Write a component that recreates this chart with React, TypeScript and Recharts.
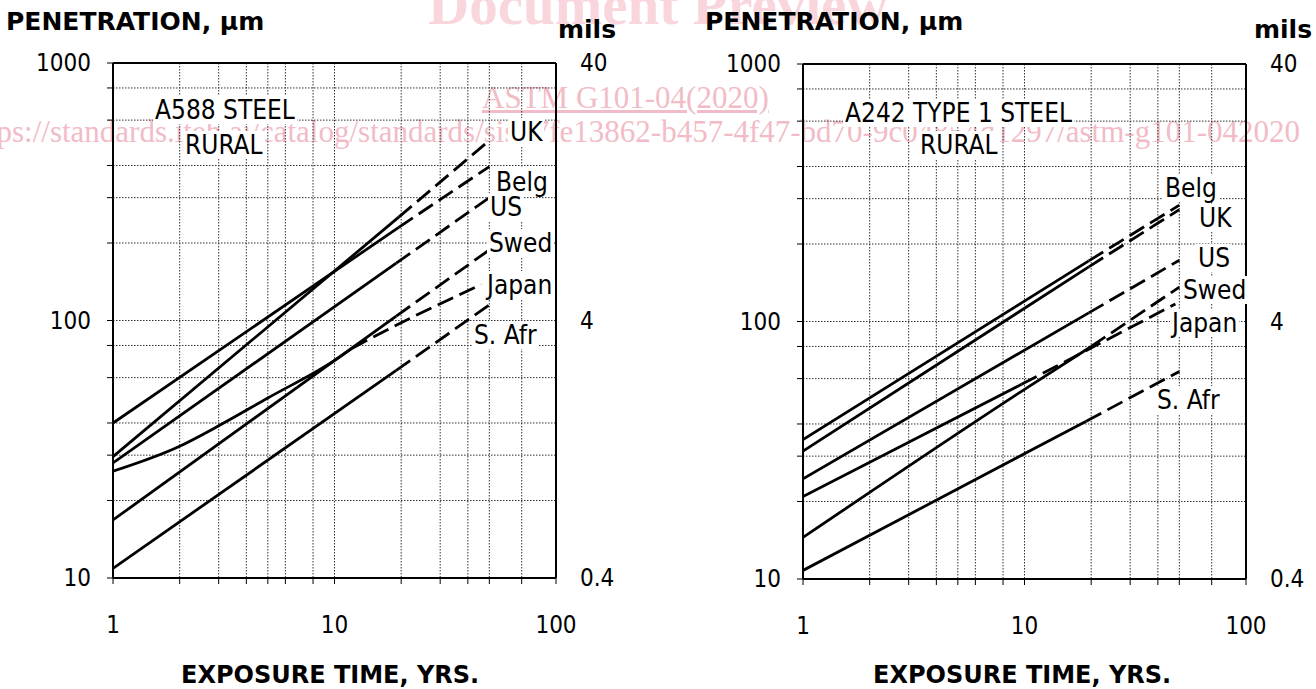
import { CartesianGrid, Line, LineChart, ReferenceLine, XAxis, YAxis } from "recharts";

// penetration (µm) vs exposure time (yrs)
// each row is [years, µm]; the part after dashFrom is drawn dashed (extrapolated)
const a588Uk = [[1, 29.6], [19.5, 252], [50, 500]];
const a588Belg = [[1, 40], [19.5, 230], [50, 396]];
const a588Us = [[1, 28], [19, 167], [50, 300]];
const a588Swed = [[1, 16.8], [19, 104], [50, 188]];
const a588Japan = [[1, 26], [2, 32.5], [3, 39], [5, 50], [10, 70], [12, 78], [20, 98], [46, 138]];
const a588SAfr = [[1, 10.9], [19, 64], [50, 115]];

const a242Belg = [[1, 34.8], [19.5, 172], [50, 283]];
const a242Uk = [[1, 31.4], [19.5, 163], [50, 272]];
const a242Us = [[1, 24.5], [19.5, 108], [50, 173]];
const a242Swed = [[1, 14.5], [10.5, 56], [20, 80], [50, 136]];
const a242Japan = [[1, 20.9], [9.7, 57], [48, 117]];
const a242SAfr = [[1, 10.8], [19, 41], [50, 64]];

const xTicks = [1, 2, 3, 4, 5, 6, 7, 8, 9, 10, 20, 30, 40, 50, 60, 70, 80, 90, 100];
const yTicks = [10, 20, 30, 40, 50, 60, 70, 80, 90, 100, 200, 300, 400, 500, 600, 700, 800, 900, 1000];
const milTicks = [0.4, 4, 40];
const labelledX = [1, 10, 100];
const labelledY = [10, 100, 1000];

type Series = { name: string; rows: number[][]; dashFrom: number };

const a588Series: Series[] = [
  { name: "UK", rows: a588Uk, dashFrom: 19.5 },
  { name: "Belg", rows: a588Belg, dashFrom: 19.5 },
  { name: "US", rows: a588Us, dashFrom: 19 },
  { name: "Swed", rows: a588Swed, dashFrom: 19 },
  { name: "Japan", rows: a588Japan, dashFrom: 12 },
  { name: "S. Afr", rows: a588SAfr, dashFrom: 19 }
];

const a242Series: Series[] = [
  { name: "Belg", rows: a242Belg, dashFrom: 19.5 },
  { name: "UK", rows: a242Uk, dashFrom: 19.5 },
  { name: "US", rows: a242Us, dashFrom: 19.5 },
  { name: "Swed", rows: a242Swed, dashFrom: 20 },
  { name: "Japan", rows: a242Japan, dashFrom: 9.7 },
  { name: "S. Afr", rows: a242SAfr, dashFrom: 19 }
];

const FONT = "'DejaVu Sans Condensed', 'DejaVu Sans', sans-serif";
const TICK_SIZE = 24;
const toPts = (rows: number[][]) => rows.map(([t, v]) => ({ t, v }));

const XTick = ({ x, y, payload }: any) =>
  labelledX.includes(payload.value) ? (
    <text x={x} y={y + 39} dy="0.35em" textAnchor="middle" fontSize={TICK_SIZE} fontFamily={FONT} fill="#000">
      {payload.value}
    </text>
  ) : (
    <g />
  );

const YTick = ({ x, y, payload }: any) =>
  labelledY.includes(payload.value) ? (
    <text x={x} y={y} dy="0.35em" textAnchor="end" fontSize={TICK_SIZE} fontFamily={FONT} fill="#000">
      {payload.value}
    </text>
  ) : (
    <g />
  );

const MilTick = ({ x, y, payload }: any) => (
  <text x={x} y={y} dy="0.35em" textAnchor="start" fontSize={TICK_SIZE} fontFamily={FONT} fill="#000">
    {payload.value}
  </text>
);

function Panel({ series, margin }: { series: Series[]; margin: { top: number; right: number; bottom: number; left: number } }) {
  return (
    <LineChart width={658} height={689} margin={margin}>
      <CartesianGrid stroke="#333" strokeDasharray="1.5 1.5" strokeWidth={1} />
      <XAxis
        dataKey="t"
        type="number"
        scale="log"
        domain={[1, 100]}
        ticks={xTicks}
        allowDataOverflow
        height={60}
        tick={XTick}
        tickSize={6}
        tickLine={{ stroke: "#000" }}
        axisLine={{ stroke: "#000", strokeWidth: 2 }}
      />
      <YAxis
        type="number"
        scale="log"
        domain={[10, 1000]}
        ticks={yTicks}
        allowDataOverflow
        width={60}
        tick={YTick}
        tickSize={6}
        tickMargin={16}
        tickLine={{ stroke: "#000" }}
        axisLine={{ stroke: "#000", strokeWidth: 2 }}
      />
      <YAxis
        yAxisId="mils"
        orientation="right"
        type="number"
        scale="log"
        domain={[0.4, 40]}
        ticks={milTicks}
        allowDataOverflow
        width={60}
        tick={MilTick}
        tickLine={false}
        tickMargin={18}
        axisLine={{ stroke: "#000", strokeWidth: 2 }}
      />
      <ReferenceLine y={1000} stroke="#000" strokeWidth={2} />
      {series.map((s) => (
        <Line
          key={s.name + "-solid"}
          data={toPts(s.rows.filter(([t]) => t <= s.dashFrom))}
          dataKey="v"
          type="monotone"
          stroke="#000"
          strokeWidth={2.8}
          dot={false}
          isAnimationActive={false}
        />
      ))}
      {series.map((s) => (
        <Line
          key={s.name + "-dashed"}
          data={toPts(s.rows.filter(([t]) => t >= s.dashFrom))}
          dataKey="v"
          type="monotone"
          stroke="#000"
          strokeWidth={2.8}
          strokeDasharray="17 7"
          dot={false}
          isAnimationActive={false}
        />
      ))}
    </LineChart>
  );
}

// text placed by its left edge and vertical centre
const txt = (left: number, cy: number, text: string, extra: any = {}) => {
  const lh = extra.lineHeight ?? 28;
  return (
    <div
      key={text + left + cy}
      style={{
        position: "absolute",
        left,
        top: cy - lh / 2,
        fontFamily: FONT,
        fontSize: 26,
        background: "#fff",
        padding: "0 2px",
        whiteSpace: "nowrap",
        ...extra,
        lineHeight: lh + "px"
      }}
    >
      {text}
    </div>
  );
};

const bold = { fontWeight: 700, fontFamily: "'DejaVu Sans', sans-serif", fontSize: 25, background: "transparent", padding: 0, lineHeight: 26 };
const boldX = { ...bold, fontSize: 24, lineHeight: 24 };
const pink = "#f2bcc6";

export default function App() {
  return (
    <div style={{ position: "absolute", left: 0, top: 0, width: 1316, height: 689, overflow: "hidden", background: "#fff" }}>
      {/* watermark of the source document */}
      <div style={{ position: "absolute", left: 428, top: -28, fontFamily: "'Liberation Serif', serif", fontWeight: 700, fontSize: 57, color: "#f9d6dc", whiteSpace: "nowrap" }}>
        Document Preview
      </div>
      <div style={{ position: "absolute", left: 482, top: 80, fontFamily: "'Liberation Serif', serif", fontSize: 31, color: pink, textDecoration: "underline", whiteSpace: "nowrap" }}>
        ASTM G101-04(2020)
      </div>
      <div style={{ position: "absolute", right: 16, top: 114, fontFamily: "'Liberation Serif', serif", fontSize: 31, color: pink, whiteSpace: "nowrap" }}>
        https://standards.iteh.ai/catalog/standards/sist/7fe13862-b457-4f47-bd70-9c04854d1297/astm-g101-042020
      </div>

      <div style={{ position: "absolute", left: 0, top: 0 }}>
        <Panel series={a588Series} margin={{ top: 63, right: 42, bottom: 51, left: 53 }} />
      </div>
      <div style={{ position: "absolute", left: 658, top: 0 }}>
        <Panel series={a242Series} margin={{ top: 64, right: 10, bottom: 50, left: 85 }} />
      </div>

      {txt(6, 22, "PENETRATION, µm", bold)}
      {txt(558, 30, "mils", bold)}
      {txt(181, 675, "EXPOSURE TIME, YRS.", boldX)}
      {txt(705, 22, "PENETRATION, µm", bold)}
      {txt(1254, 30, "mils", bold)}
      {txt(873, 675, "EXPOSURE TIME, YRS.", boldX)}

      {txt(153, 110, "A588 STEEL")}
      {txt(183, 145, "RURAL")}
      {txt(508, 132, "UK")}
      {txt(494, 182, "Belg")}
      {txt(488, 207, "US")}
      {txt(487, 243, "Swed")}
      {txt(485, 285, "Japan")}
      {txt(472, 335, "S. Afr")}

      {txt(843, 113, "A242 TYPE 1 STEEL")}
      {txt(918, 145, "RURAL")}
      {txt(1163, 188, "Belg")}
      {txt(1197, 218, "UK")}
      {txt(1196, 258, "US")}
      {txt(1181, 290, "Swed")}
      {txt(1170, 323, "Japan")}
      {txt(1155, 400, "S. Afr")}
    </div>
  );
}
